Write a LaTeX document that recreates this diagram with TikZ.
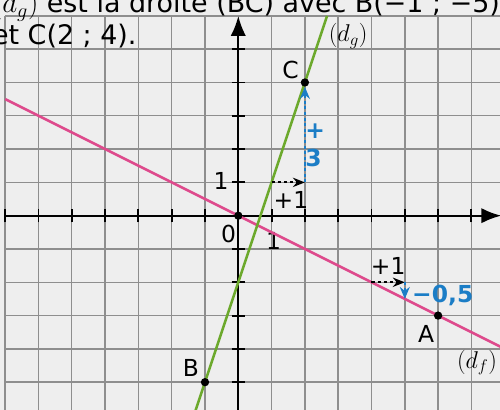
\documentclass[tikz,border=0pt]{standalone}
\usepackage{fontspec}
\setmainfont{DejaVu Sans}
\usetikzlibrary{arrows.meta, positioning}
\definecolor{bgcol}{HTML}{EEEEEE}
\definecolor{gridcol}{HTML}{8E8E8E}
\definecolor{fcol}{HTML}{DE4A8C}
\definecolor{gcol}{HTML}{6CA92C}
\definecolor{stepblue}{HTML}{1B7DC6}

\begin{document}
\begin{tikzpicture}[
    every node/.style={font=\fontsize{20}{24}\selectfont, inner sep=0pt},
    gridline/.style={gridcol, line width=1.2pt},
    axis/.style={line width=2pt, -{Latex[length=6mm, width=4.6mm]}},
    tickmark/.style={line width=1.6pt},
    dfline/.style={fcol, line width=2.2pt},
    dgline/.style={gcol, line width=2.2pt},
    pt/.style={circle, fill=black, minimum size=2.5mm},
    runarr/.style={line width=1.6pt, dash pattern=on 3pt off 2.2pt,
                   -{Stealth[length=3.6mm, width=2.8mm]}},
    risearr/.style={stepblue, line width=1.6pt, dash pattern=on 2.6pt off 2.2pt,
                    -{Stealth[length=3.6mm, width=3mm]}},
    risetxt/.style={stepblue, font=\fontsize{20}{24}\selectfont\bfseries},
    linename/.style={font=\fontsize{21}{24}\selectfont}
]
    \useasboundingbox (-7.156,-5.835) rectangle (7.859,6.477);
    \clip (-7.156,-5.835) rectangle (7.859,6.477);
    \fill[bgcol] (-7.156,-5.835) rectangle (7.859,6.477);

    % grid and axes
    \draw[gridline] (-7,-6) grid (8,6);
    \coordinate (xmin) at (-7,0);
    \coordinate (xmax) at (7.9,0);
    \coordinate (ymin) at (0,-6);
    \coordinate (ymax) at (0,6);
    \draw[axis] (xmin) -- (xmax);
    \draw[axis] (ymin) -- (ymax);
    \foreach \x in {-7,...,7}
        \draw[tickmark] (\x,-0.2) -- (\x,0.2);
    \foreach \y in {-6,...,5}
        \draw[tickmark] (-0.2,\y) -- (0.2,\y);

    \node (zero) at (-0.29,-0.55) {0};
    \node (xone) at (1.06,-0.76) {1};
    \node (yone) at (-0.52,1.04) {1};

    % the two lines
    \coordinate (fstart) at (-7,3.5);
    \coordinate (fend)   at (8,-4);
    \coordinate (gstart) at (-4/3,-6);
    \coordinate (gend)   at (8/3,6);
    \draw[dfline] (fstart) -- (fend);
    \draw[dgline] (gstart) -- (gend);

    \node[pt] (O) at (0,0) {};
    \node[pt] (A) at (6,-3) {};
    \node[pt] (B) at (-1,-5) {};
    \node[pt] (C) at (2,4) {};

    \node (Alabel) at (5.64,-3.54) {A};
    \node (Blabel) at (-1.42,-4.56) {B};
    \node (Clabel) at (1.57,4.38) {C};
    \node[linename] (dglabel) at (3.30,5.40) {$(d_g)$};
    \node[linename] (dflabel) at (7.17,-4.41) {$(d_f)$};

    % steps on (d_g)
    \coordinate (g1) at (1,1);
    \coordinate (g2) at (2,1);
    \draw[runarr] (g1) -- (g2);
    \draw[risearr] (g2) -- (C);
    \node (grun) at (1.58,0.47) {+1};
    \node[risetxt, align=left] (grise) at (2.31,2.12) {+\\3};

    % steps on (d_f)
    \coordinate (f1) at (4,-2);
    \coordinate (f2) at (5,-2);
    \coordinate (f3) at (5,-2.5);
    \draw[runarr] (f1) -- (f2);
    \draw[risearr] (f2) -- (f3);
    \node (frun) at (4.5,-1.52) {+1};
    \node[risetxt] (frise) at (6.14,-2.4) {−0,5};

    % statement
    \node[font=\fontsize{23}{27.5}\selectfont, align=left, anchor=base west]
        (intro) at (-7.40,5.13) {$(d_g)$ est la droite (BC) avec B(−1 ; −5)\\et C(2 ; 4).};
\end{tikzpicture}
\end{document}
